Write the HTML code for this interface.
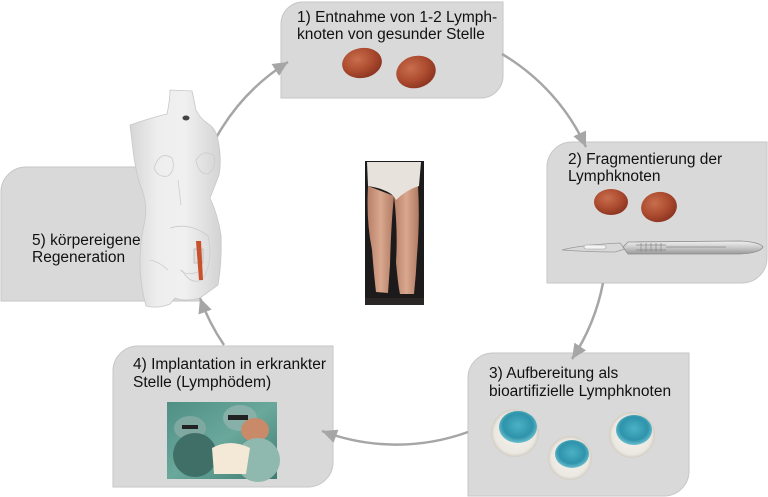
<!DOCTYPE html>
<html>
<head>
<meta charset="utf-8">
<style>
  html,body{margin:0;padding:0;background:#fff;}
  body{width:768px;height:497px;overflow:hidden;}
  svg{display:block;}
  text{font-family:"Liberation Sans",Arial,sans-serif;font-size:15.5px;fill:#111;}
</style>
</head>
<body>
<svg width="768" height="497" viewBox="0 0 768 497" xmlns="http://www.w3.org/2000/svg">
  <defs>
    <marker id="ah" markerUnits="userSpaceOnUse" markerWidth="16" markerHeight="14" refX="15" refY="7" orient="auto">
      <path d="M0,0 L15,7 L0,14 Z" fill="#a6a6a6"/>
    </marker>
    <radialGradient id="node" cx="40%" cy="35%" r="65%">
      <stop offset="0" stop-color="#c86e4e"/>
      <stop offset="0.6" stop-color="#ad4c30"/>
      <stop offset="1" stop-color="#8e3622"/>
    </radialGradient>
    <radialGradient id="disc" cx="50%" cy="50%" r="50%">
      <stop offset="0" stop-color="#f6f4ef"/>
      <stop offset="0.85" stop-color="#ebe8e1"/>
      <stop offset="1" stop-color="#d2cdc3"/>
    </radialGradient>
    <radialGradient id="blue" cx="50%" cy="45%" r="55%">
      <stop offset="0" stop-color="#4bb2c4"/>
      <stop offset="0.7" stop-color="#2e93ab"/>
      <stop offset="1" stop-color="#6cc0cf"/>
    </radialGradient>
    <linearGradient id="torso" x1="0" y1="0" x2="1" y2="0">
      <stop offset="0" stop-color="#d6d6d6"/>
      <stop offset="0.3" stop-color="#eeeeee"/>
      <stop offset="0.6" stop-color="#f0f0f0"/>
      <stop offset="1" stop-color="#d3d3d3"/>
    </linearGradient>
    <linearGradient id="scal" x1="0" y1="0" x2="0" y2="1">
      <stop offset="0" stop-color="#f2f2f2"/>
      <stop offset="0.5" stop-color="#c9c9c9"/>
      <stop offset="1" stop-color="#9a9a9a"/>
    </linearGradient>
    <linearGradient id="surg" x1="0" y1="0" x2="1" y2="1">
      <stop offset="0" stop-color="#4f8f84"/>
      <stop offset="0.5" stop-color="#6aa89c"/>
      <stop offset="1" stop-color="#3e7a70"/>
    </linearGradient>
    <linearGradient id="skin" x1="0" y1="0" x2="1" y2="0">
      <stop offset="0" stop-color="#b88068"/>
      <stop offset="0.5" stop-color="#d9a88e"/>
      <stop offset="1" stop-color="#b07a62"/>
    </linearGradient>
  </defs>

  <!-- Boxes -->
  <path d="M281,24 A22,22 0 0 1 303,2 L503,2 L503,76 A22,22 0 0 1 481,98 L281,98 Z" fill="#d9d9d9" stroke="#c6c6c6" stroke-width="1"/>
  <path d="M547,167 A25,25 0 0 1 572,142 L767,142 L767,258 A25,25 0 0 1 742,283 L547,283 Z" fill="#d9d9d9" stroke="#c6c6c6" stroke-width="1"/>
  <path d="M468,378 A25,25 0 0 1 493,353 L689,353 L689,471 A25,25 0 0 1 664,496 L468,496 Z" fill="#d9d9d9" stroke="#c6c6c6" stroke-width="1"/>
  <path d="M113,371 A25,25 0 0 1 138,346 L333,346 L333,462 A25,25 0 0 1 308,487 L113,487 Z" fill="#d9d9d9" stroke="#c6c6c6" stroke-width="1"/>
  <path d="M1,192 A25,25 0 0 1 26,167 L200,167 L200,301 L1,301 Z" fill="#d9d9d9" stroke="#c6c6c6" stroke-width="1"/>

  <!-- Arrows -->
  <g fill="none" stroke="#a6a6a6" stroke-width="2.5" marker-end="url(#ah)">
    <path d="M502,54 A210,210 0 0 1 586,147"/>
    <path d="M603,283 A210,210 0 0 1 572,359"/>
    <path d="M468,432 A210,210 0 0 1 322,431"/>
    <path d="M224,345 A210,210 0 0 1 200,298"/>
    <path d="M216,138 A210,210 0 0 1 288,62"/>
  </g>

  <!-- Box 1 content -->
  <text x="297" y="22">1) Entnahme von 1-2 Lymph-</text>
  <text x="297" y="39">knoten von gesunder Stelle</text>
  <ellipse cx="362" cy="63" rx="20" ry="15" fill="url(#node)" transform="rotate(-10 362 63)"/>
  <ellipse cx="416" cy="72" rx="20" ry="16" fill="url(#node)" transform="rotate(-15 416 72)"/>

  <!-- Box 2 content -->
  <text x="568" y="164">2) Fragmentierung der</text>
  <text x="568" y="181">Lymphknoten</text>
  <ellipse cx="611" cy="202" rx="17" ry="13" fill="url(#node)"/>
  <ellipse cx="659" cy="207" rx="18" ry="15" fill="url(#node)" transform="rotate(-10 659 207)"/>
  <!-- scalpel -->
  <path d="M562,250 Q580,245 620,243 L625,249 L615,252 Q590,252 562,250 Z" fill="#d8d8d8" stroke="#9a9a9a" stroke-width="0.8"/>
  <path d="M623,247 L628,242 L740,241 Q760,242 763,247 Q760,253 740,254 L628,254 Z" fill="url(#scal)" stroke="#8d8d8d" stroke-width="0.8"/>
  <rect x="584" y="245" width="22" height="4" rx="2" fill="#f4f4f4" stroke="#999" stroke-width="0.6"/>
  <g fill="none" stroke="#888" stroke-width="0.7">
    <path d="M636,245 h30 M636,250 h30"/>
    <path d="M641,243v9 M646,243v9 M651,243v9 M656,243v9 M661,243v9"/>
    <path d="M666,247 h60"/>
  </g>

  <!-- Box 3 content -->
  <text x="489" y="378">3) Aufbereitung als</text>
  <text x="489" y="396">bioartifizielle Lymphknoten</text>
  <g>
    <circle cx="515" cy="433" r="24" fill="url(#disc)"/>
    <ellipse cx="518" cy="427" rx="19" ry="16" fill="url(#blue)"/>
    <circle cx="570" cy="458" r="22" fill="url(#disc)"/>
    <ellipse cx="572" cy="454" rx="17" ry="14" fill="url(#blue)"/>
    <circle cx="632" cy="435" r="23" fill="url(#disc)"/>
    <ellipse cx="634" cy="430" rx="18" ry="15" fill="url(#blue)"/>
  </g>

  <!-- Box 4 content -->
  <text x="133" y="369">4) Implantation in erkrankter</text>
  <text x="133" y="387">Stelle (Lymphödem)</text>
  <rect x="167" y="402" width="110" height="77" fill="url(#surg)"/>
  <g>
    <ellipse cx="190" cy="428" rx="16" ry="12" fill="#7fa8a0"/>
    <ellipse cx="195" cy="455" rx="22" ry="22" fill="#3f6f67"/>
    <ellipse cx="240" cy="418" rx="17" ry="13" fill="#86b0a8"/>
    <ellipse cx="255" cy="430" rx="14" ry="12" fill="#c98a6a"/>
    <ellipse cx="258" cy="460" rx="22" ry="22" fill="#8fb8ae"/>
    <path d="M212,448 Q230,438 250,448 L246,474 L214,474 Z" fill="#f3e9d6"/>
    <rect x="228" y="415" width="20" height="5" fill="#222"/>
    <rect x="182" y="425" width="16" height="4" fill="#222"/>
  </g>

  <!-- Box 5 content -->
  <text x="32" y="245">5) körpereigene</text>
  <text x="32" y="262">Regeneration</text>

  <!-- Torso -->
  <path d="M170,90 L192,91 Q194,100 196,110 Q200,118 207,123 Q216,128 218,140 Q222,160 219,175 Q214,188 210,198 Q218,215 221,235 Q222,262 218,285 L200,298 Q185,302 175,298 L170,304 Q158,309 146,306 Q140,285 140,262 Q140,240 144,225 Q148,205 142,190 Q136,175 133,150 L130,125 Q150,118 167,114 Q170,100 170,90 Z" fill="url(#torso)" stroke="#c8c8c8" stroke-width="0.8"/>
  <g fill="none" stroke="#cccccc" stroke-width="0.8">
    <path d="M154,168 Q160,150 172,158 Q176,170 168,176 Q158,178 154,168 Z"/>
    <path d="M196,160 Q204,148 214,156 Q217,168 208,174 Q198,174 196,160 Z"/>
    <path d="M178,180 L181,205"/>
    <path d="M170,228 Q190,222 208,236 Q214,262 202,280 Q190,285 182,270"/>
    <path d="M180,270 Q186,276 198,272"/>
    <path d="M150,260 Q160,262 168,270"/>
  </g>
  <ellipse cx="186" cy="118" rx="3.5" ry="2.5" fill="#444"/>
  <rect x="194" y="249" width="9" height="14" fill="#e0e0e0" stroke="#aaa" stroke-width="0.6"/>
  <path d="M196,241 L201,241 L203,280 L199,280 Z" fill="#c8502a"/>

  <!-- Center leg photo -->
  <rect x="365" y="161" width="59" height="144" fill="#1c1a1a"/>
  <path d="M368,186 Q366,220 372,250 Q374,275 376,292 L388,293 L390,265 Q391,225 394,196 Z" fill="url(#skin)"/>
  <path d="M394,196 Q398,230 396,262 Q398,285 400,294 L414,294 Q416,275 417,255 Q420,220 418,186 Z" fill="url(#skin)"/>
  <path d="M367,162 L421,162 L419,186 Q406,190 396,200 Q392,190 368,186 Z" fill="#e8e2dc"/>
  <rect x="365" y="298" width="59" height="7" fill="#2a2626"/>
</svg>
</body>
</html>
